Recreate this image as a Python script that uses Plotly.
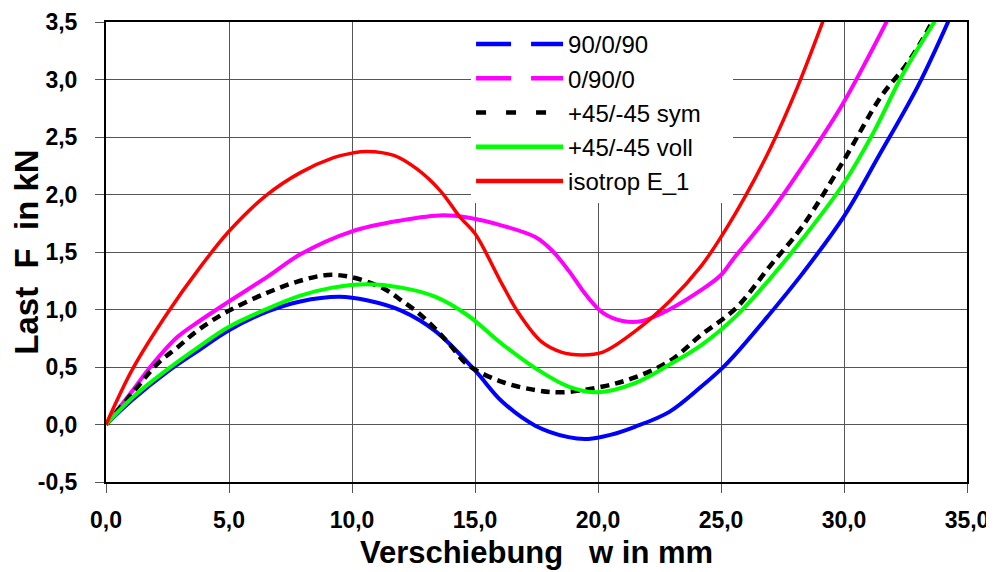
import plotly.graph_objects as go

# ---------------- data ----------------
x_9009 = [0, 1.1, 2.5, 3.8, 5.0, 6.6, 7.9, 9.5, 10.6, 12.0, 13.4, 15.0, 16.1, 17.45, 18.8, 19.6, 20.5,
          21.5, 22.9, 24.2, 25.05, 25.5, 26.9, 28.3, 30.0, 31.4, 33.0, 34.25]
y_9009 = [0, 0.22, 0.46, 0.65, 0.82, 0.985, 1.07, 1.11, 1.08, 0.99, 0.81, 0.47, 0.20, -0.01, -0.11, -0.125, -0.09,
          -0.02, 0.11, 0.33, 0.49, 0.59, 0.94, 1.31, 1.81, 2.33, 2.94, 3.51]

x_0900 = [0, 1.1, 1.8, 2.9, 3.8, 5.0, 6.6, 7.9, 10.0, 12.0, 13.7, 14.7, 16.1, 17.45, 18.1, 18.8, 19.5, 20.2,
          21.0, 21.8, 22.9, 24.2, 25.0, 25.5, 26.9, 28.3, 29.9, 31.0, 31.75]
y_0900 = [0, 0.30, 0.50, 0.76, 0.90, 1.07, 1.29, 1.48, 1.68, 1.775, 1.82, 1.80, 1.73, 1.63, 1.52, 1.34, 1.13, 0.97,
          0.90, 0.90, 1.00, 1.17, 1.30, 1.44, 1.81, 2.24, 2.77, 3.20, 3.51]

x_sym = [0, 1.1, 2.1, 2.9, 3.8, 5.0, 6.6, 7.9, 9.0, 10.0, 11.3, 12.0, 12.7, 13.4, 14.0, 14.7, 16.1, 17.45,
         18.5, 20.2, 21.5, 22.9, 24.2, 25.6, 27.0, 28.3, 30.0, 31.5, 32.5, 33.2, 33.6]
y_sym = [0, 0.28, 0.53, 0.67, 0.83, 0.99, 1.15, 1.25, 1.30, 1.28, 1.18, 1.08, 0.97, 0.83, 0.69, 0.52, 0.37, 0.30,
         0.28, 0.33, 0.41, 0.55, 0.78, 1.01, 1.38, 1.72, 2.30, 2.85, 3.12, 3.35, 3.51]

x_voll = [0, 1.1, 2.5, 3.8, 5.0, 6.6, 7.9, 9.2, 10.6, 12.0, 13.4, 14.7, 16.1, 17.45, 18.8, 20.0, 21.5, 22.9,
          24.2, 25.6, 27.0, 28.3, 30.0, 31.25, 32.35, 33.7]
y_voll = [0, 0.24, 0.48, 0.68, 0.85, 1.01, 1.12, 1.19, 1.22, 1.19, 1.11, 0.95, 0.70, 0.49, 0.33, 0.28, 0.36, 0.52,
          0.69, 0.94, 1.27, 1.61, 2.10, 2.56, 3.03, 3.51]

x_iso = [0, 1.1, 2.5, 3.8, 5.0, 6.5, 7.9, 9.25, 10.0, 10.6, 11.7, 12.65, 13.6, 14.4, 15.0, 16.1, 16.8, 17.7,
         18.5, 19.35, 20.2, 21.5, 22.9, 24.2, 25.0, 26.0, 27.0, 28.1, 29.15]
y_iso = [0, 0.49, 0.97, 1.36, 1.68, 1.99, 2.19, 2.32, 2.36, 2.375, 2.34, 2.22, 2.03, 1.80, 1.66, 1.22, 0.96, 0.72,
         0.63, 0.605, 0.63, 0.81, 1.07, 1.38, 1.63, 1.99, 2.40, 2.93, 3.51]

series_names = ["90/0/90", "0/90/0", "+45/-45 sym", "+45/-45 voll", "isotrop E_1"]

x_tickvals = [0, 5, 10, 15, 20, 25, 30, 35]
x_ticktext = ["0,0", "5,0", "10,0", "15,0", "20,0", "25,0", "30,0", "35,0"]
y_tickvals = [-0.5, 0, 0.5, 1.0, 1.5, 2.0, 2.5, 3.0, 3.5]
y_ticktext = ["-0,5", "0,0", "0,5", "1,0", "1,5", "2,0", "2,5", "3,0", "3,5"]

# ---------------- figure ----------------
FONT = "Liberation Sans, Arial, sans-serif"
xs = [x_9009, x_0900, x_sym, x_voll, x_iso]
ys = [y_9009, y_0900, y_sym, y_voll, y_iso]
colors = ["#0000FF", "#FF00FF", "#000000", "#00FF00", "#FF0000"]
curve_dash = ["solid", "solid", "9px,6px", "solid", "solid"]
legend_dash = ["35px,20px", "35px,20px", "10px,20px", "solid", "solid"]
widths = [4, 4, 4.5, 4, 3.5]
# invisible trailing padding so the white legend box is as wide as in the reference
legend_pad = ["", "", "\u00a0\u00a0\u00a0\u00a0", "", ""]

fig = go.Figure()
for i in range(5):
    fig.add_trace(go.Scatter(
        x=xs[i], y=ys[i], mode="lines", name=series_names[i], showlegend=False,
        line=dict(color=colors[i], width=widths[i], dash=curve_dash[i], shape="spline", smoothing=1.0),
        cliponaxis=True, hoverinfo="skip"))
for i in range(5):
    fig.add_trace(go.Scatter(
        x=[None], y=[None], mode="lines", name=series_names[i] + legend_pad[i], legendgroup=str(i),
        line=dict(color=colors[i], width=4.5, dash=legend_dash[i])))

axis_common = dict(
    showline=True, mirror=True, linecolor="black", linewidth=2,
    showgrid=True, gridcolor="#555555", gridwidth=1,
    ticks="outside", ticklen=9, tickcolor="#555555", tickwidth=1,
    tickfont=dict(family=FONT, size=23, color="black", weight="bold"),
    zeroline=False, fixedrange=True, automargin=False,
)

# the page body has an 8px margin: the figure is sized so that it fills the window exactly
fig.update_layout(
    width=986, height=564,
    margin=dict(l=98, r=27, t=14, b=90),
    paper_bgcolor="white", plot_bgcolor="white",
    font=dict(family=FONT, color="black"),
    xaxis=dict(range=[0, 35], tickvals=x_tickvals, ticktext=x_ticktext,
               ticklabelstandoff=7,
               title=dict(text="Verschiebung\u00a0\u00a0\u00a0w\u00a0in\u00a0mm",
                          font=dict(family=FONT, size=31, color="black", weight="bold"), standoff=10),
               **axis_common),
    yaxis=dict(range=[-0.5, 3.5], tickvals=y_tickvals, ticktext=y_ticktext,
               ticklabelstandoff=13,
               title=dict(text="Last\u00a0\u00a0F\u00a0\u00a0in\u00a0kN",
                          font=dict(family=FONT, size=33, color="black", weight="bold"), standoff=8),
               **axis_common),
    legend=dict(x=0.424, y=1.0, xanchor="left", yanchor="top", bgcolor="white",
                borderwidth=0, itemwidth=87, traceorder="grouped", tracegroupgap=0,
                font=dict(family=FONT, size=24, color="black")),
    showlegend=True,
)

fig.write_html("out.html")
